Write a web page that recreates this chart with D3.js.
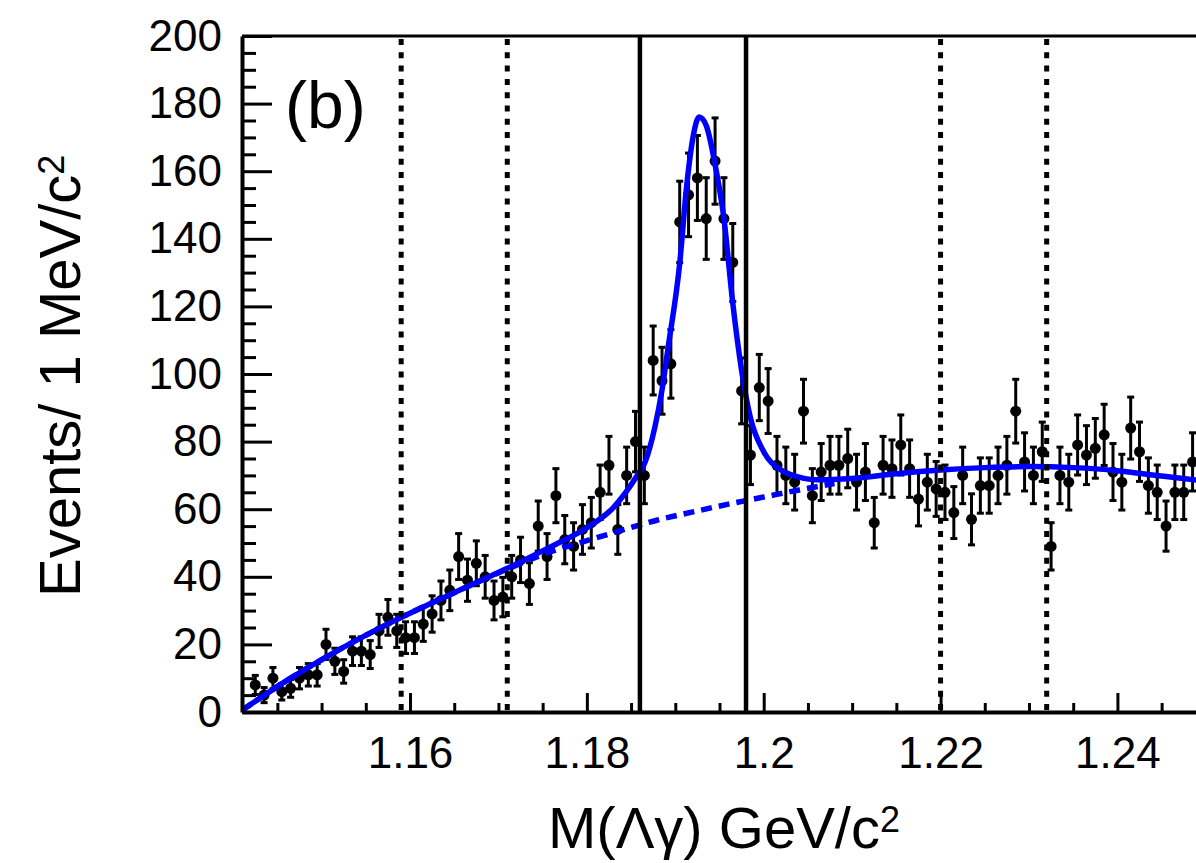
<!DOCTYPE html>
<html lang="en">
<head>
  <meta charset="UTF-8">
  <title>M(Λγ) invariant mass fit (b)</title>
  <script src="https://d3js.org/d3.v7.min.js"></script>
  <style>
    body {
      margin: 0;
      padding: 0;
      background: #fff;
    }
    svg text {
      font-family: 'Liberation Sans', Arial, Helvetica, sans-serif;
      fill: #000;
    }
    .axis path, .axis line {
      stroke: #000;
    }
  </style>
</head>
<body>
  <div id="chart"></div>

  <script>
    // histogram: 1 MeV bins, first bin starts at 1.142 GeV
    const binStart = 1.142;
    const binWidth = 0.001;
    const counts = [
      8, 5, 10, 6, 7, 10, 11, 11, 20, 15,
      12, 18, 18, 17, 24, 28, 24, 22, 22, 26,
      29, 33, 36, 46, 39, 44, 40, 33, 34, 40,
      45, 38, 55, 46, 64, 51, 49, 54, 56, 65,
      73, 54, 70, 80, 70, 104, 98, 103, 145, 153,
      158, 146, 163, 146, 133, 95, 76, 96, 92, 73,
      70, 68, 89, 64, 71, 73, 73, 75, 68, 71,
      56, 73, 72, 79, 72, 63, 68, 66, 65, 59,
      70, 57, 67, 67, 70, 73, 89, 74, 70, 77,
      49, 70, 68, 79, 76, 78, 82, 71, 68, 84,
      77, 67, 65, 55, 65, 65, 74
    ];

    // total fit (signal + background)
    const fitMass = [1.1410, 1.1460, 1.1510, 1.1590, 1.1650, 1.1710, 1.1760, 1.1800, 1.1830, 1.1856,
                     1.1866, 1.1877, 1.1885, 1.1892, 1.1905, 1.1913, 1.1920, 1.1927, 1.1935, 1.1945,
                     1.1955, 1.1965, 1.1975, 1.1985, 1.2000, 1.2020, 1.2040, 1.2060, 1.2100, 1.2150,
                     1.2200, 1.2250, 1.2300, 1.2350, 1.2400, 1.2450, 1.2490];
    const fitTotal = [0.5, 9.2, 17, 28, 35.3, 42.5, 49, 54.5, 60.5, 69.6,
                      74, 84.4, 95.3, 108, 132.7, 156, 170, 176, 173.5, 162,
                      146, 121, 101, 87, 77, 71.5, 69.5, 68.7, 69.1, 70.5,
                      71.6, 72.3, 72.6, 72.3, 71.4, 69.8, 68.6];

    // background component (dashed)
    const bkgMass = [1.1410, 1.1460, 1.1510, 1.1590, 1.1650, 1.1710, 1.1760, 1.1800, 1.1840, 1.1880,
                     1.1920, 1.1960, 1.2000, 1.2040, 1.2080];
    const bkgValue = [0.5, 9.2, 17, 28, 35.3, 42.3, 47.5, 50.7, 53.8, 56.8,
                      59.2, 61.5, 63.6, 65.7, 67.6];

    // signal window (solid) and sidebands (dotted)
    const signalCuts = [1.186, 1.198];
    const sidebandCuts = [1.159, 1.171, 1.220, 1.232];

    const xMajor = [1.16, 1.18, 1.20, 1.22, 1.24];
    const xMajorLabels = ["1.16", "1.18", "1.2", "1.22", "1.24"];
    const xMinor = [1.145, 1.150, 1.155, 1.165, 1.170, 1.175, 1.185, 1.190, 1.195,
                    1.205, 1.210, 1.215, 1.225, 1.230, 1.235, 1.245];
    const yMajor = [0, 20, 40, 60, 80, 100, 120, 140, 160, 180, 200];
    const yMinor = [5, 10, 15, 25, 30, 35, 45, 50, 55, 65, 70, 75, 85, 90, 95, 105, 110, 115,
                    125, 130, 135, 145, 150, 155, 165, 170, 175, 185, 190, 195];

    const W = 1196, H = 863;
    const plot = { left: 242, right: 1197, top: 36, bottom: 712 };

    const svg = d3.select("#chart")
      .append("svg")
      .attr("width", W)
      .attr("height", H)
      .style("display", "block");

    svg.append("rect").attr("width", W).attr("height", H).attr("fill", "#fff");

    const x = d3.scaleLinear().domain([1.141, 1.249]).range([plot.left, plot.right]);
    const y = d3.scaleLinear().domain([0, 200]).range([plot.bottom, plot.top]);

    svg.append("defs").append("clipPath").attr("id", "plotClip")
      .append("rect")
      .attr("x", plot.left).attr("y", plot.top)
      .attr("width", plot.right - plot.left).attr("height", plot.bottom - plot.top);

    const data = counts.map((c, i) => ({
      m: binStart + binWidth * (i + 0.5),
      n: c,
      err: Math.sqrt(c)
    }));

    // data points with error bars
    const pts = svg.append("g").attr("clip-path", "url(#plotClip)");
    const capW = 3.5;
    pts.selectAll(".ebar").data(data).enter().append("line")
      .attr("x1", d => x(d.m)).attr("x2", d => x(d.m))
      .attr("y1", d => y(d.n - d.err)).attr("y2", d => y(d.n + d.err))
      .attr("stroke", "#000").attr("stroke-width", 3);
    pts.selectAll(".capTop").data(data).enter().append("line")
      .attr("x1", d => x(d.m) - capW).attr("x2", d => x(d.m) + capW)
      .attr("y1", d => y(d.n + d.err)).attr("y2", d => y(d.n + d.err))
      .attr("stroke", "#000").attr("stroke-width", 3);
    pts.selectAll(".capBot").data(data).enter().append("line")
      .attr("x1", d => x(d.m) - capW).attr("x2", d => x(d.m) + capW)
      .attr("y1", d => y(d.n - d.err)).attr("y2", d => y(d.n - d.err))
      .attr("stroke", "#000").attr("stroke-width", 3);
    pts.selectAll("circle").data(data).enter().append("circle")
      .attr("cx", d => x(d.m)).attr("cy", d => y(d.n))
      .attr("r", 5.5).attr("fill", "#000");

    // fit curves
    const curves = svg.append("g").attr("clip-path", "url(#plotClip)");
    const line = d3.line()
      .x(d => x(d[0]))
      .y(d => y(d[1]))
      .curve(d3.curveMonotoneX);

    curves.append("path")
      .datum(bkgMass.map((m, i) => [m, bkgValue[i]]))
      .attr("d", line)
      .attr("fill", "none")
      .attr("stroke", "#0000ff")
      .attr("stroke-width", 5.5)
      .attr("stroke-dasharray", "11,7");

    curves.append("path")
      .datum(fitMass.map((m, i) => [m, fitTotal[i]]))
      .attr("d", line)
      .attr("fill", "none")
      .attr("stroke", "#0000ff")
      .attr("stroke-width", 5.5);

    // vertical cut lines
    svg.selectAll(".sig").data(signalCuts).enter().append("line")
      .attr("x1", d => x(d)).attr("x2", d => x(d))
      .attr("y1", plot.top).attr("y2", plot.bottom)
      .attr("stroke", "#000").attr("stroke-width", 4.5);
    svg.selectAll(".side").data(sidebandCuts).enter().append("line")
      .attr("x1", d => x(d)).attr("x2", d => x(d))
      .attr("y1", plot.top + 3).attr("y2", plot.bottom)
      .attr("stroke", "#000").attr("stroke-width", 5)
      .attr("stroke-dasharray", "6,7.3");

    // x axis (ticks pointing inward)
    const xAxis = svg.append("g")
      .attr("class", "axis")
      .attr("transform", `translate(0,${plot.bottom})`)
      .call(d3.axisBottom(x).tickValues(xMajor)
        .tickFormat((d, i) => xMajorLabels[i])
        .tickSize(-19).tickSizeOuter(0).tickPadding(25));
    xAxis.selectAll("line").attr("stroke-width", 3);
    xAxis.select(".domain").attr("stroke-width", 4);
    xAxis.selectAll("text").style("font-size", "44px");

    svg.append("g")
      .attr("class", "axis")
      .attr("transform", `translate(0,${plot.bottom})`)
      .call(d3.axisBottom(x).tickValues(xMinor).tickFormat("").tickSize(-9).tickSizeOuter(0))
      .call(g => g.select(".domain").remove())
      .selectAll("line").attr("stroke-width", 3);

    // y axis
    const yAxis = svg.append("g")
      .attr("class", "axis")
      .attr("transform", `translate(${plot.left},0)`)
      .call(d3.axisLeft(y).tickValues(yMajor)
        .tickSize(-30).tickSizeOuter(0).tickPadding(20));
    yAxis.selectAll("line").attr("stroke-width", 3);
    yAxis.select(".domain").attr("stroke-width", 4);
    yAxis.selectAll("text").style("font-size", "44px");

    svg.append("g")
      .attr("class", "axis")
      .attr("transform", `translate(${plot.left},0)`)
      .call(d3.axisLeft(y).tickValues(yMinor).tickFormat("").tickSize(-14).tickSizeOuter(0))
      .call(g => g.select(".domain").remove())
      .selectAll("line").attr("stroke-width", 3);

    // top frame
    svg.append("line")
      .attr("x1", plot.left).attr("x2", W)
      .attr("y1", plot.top).attr("y2", plot.top)
      .attr("stroke", "#000").attr("stroke-width", 3);

    // axis titles
    const yTitle = svg.append("text")
      .attr("transform", "translate(80,597) rotate(-90)")
      .attr("text-anchor", "start")
      .style("font-size", "58px");
    yTitle.append("tspan").text("Events/ 1 MeV/c");
    yTitle.append("tspan").attr("dy", "-0.45em").style("font-size", "36px").text("2");

    const xTitle = svg.append("text")
      .attr("x", 548).attr("y", 848)
      .attr("text-anchor", "start")
      .style("font-size", "58px");
    xTitle.append("tspan").text("M(Λγ) GeV/c");
    xTitle.append("tspan").attr("dy", "-0.45em").style("font-size", "36px").text("2");

    // panel label
    svg.append("text")
      .attr("x", 285).attr("y", 128)
      .style("font-size", "66px")
      .text("(b)");
  </script>
</body>
</html>
